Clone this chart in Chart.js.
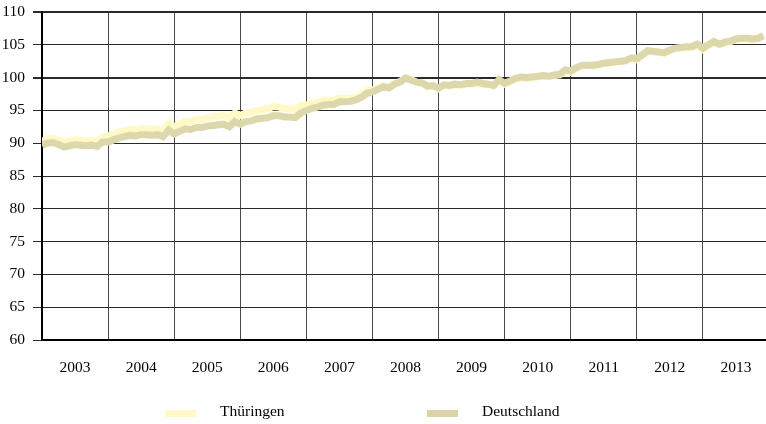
<!DOCTYPE html>
<html>
<head>
<meta charset="utf-8">
<script src="https://cdn.jsdelivr.net/npm/chart.js@4/dist/chart.umd.min.js"></script>
<style>
    html, body { margin: 0; padding: 0; background: #fff; overflow: hidden; }
    #wrap { position: relative; width: 766px; height: 424px; overflow: hidden; }
    #grafik { position: absolute; left: 0; top: 0; }
    .leg { position: absolute; font-family: "Liberation Serif", serif; font-size: 15.5px; color: #000; }
    .box { position: absolute; width: 31px; height: 7px; }
</style>
</head>
<body>
<div id="wrap">
    <canvas id="grafik" width="769" height="424"></canvas>
    <div class="box" style="left:165px; top:410px; background:#FFF9C8;"></div>
    <div class="leg" style="left:220px; top:402px;">Thüringen</div>
    <div class="box" style="left:427px; top:410px; background:#DAD4A8;"></div>
    <div class="leg" style="left:482px; top:402px;">Deutschland</div>
</div>
<script>
// Jahre (Achsenbeschriftung)
const jahre = ['2003', '2004', '2005', '2006', '2007', '2008', '2009', '2010', '2011', '2012', '2013'];

// Monatswerte Januar 2003 bis Dezember 2013
const thueringen = [
    90.2, 90.7, 90.8, 90.5, 90.1, 90.3, 90.5, 90.4, 90.3, 90.4, 90.2, 91.0,
    91.1, 91.4, 91.7, 91.9, 92.1, 92.0, 92.2, 92.2, 92.1, 92.2, 91.9, 93.1,
    92.5, 92.9, 93.3, 93.3, 93.6, 93.6, 93.9, 94.0, 94.1, 94.2, 93.9, 94.6,
    94.2, 94.6, 94.7, 95.0, 95.1, 95.2, 95.6, 95.5, 95.3, 95.2, 95.1, 95.8,
    95.8, 96.1, 96.2, 96.5, 96.6, 96.5, 96.9, 96.8, 96.9, 97.0, 97.4, 98.0,
    98.1, 98.4, 98.8, 98.5, 99.1, 99.4, 100.0, 99.7, 99.3, 99.1, 98.6, 98.7,
    98.3, 98.8, 98.7, 98.9, 98.8, 99.0, 99.0, 99.1, 98.9, 98.9, 98.7, 99.5,
    99.0, 99.4, 99.8, 99.9, 99.9, 99.9, 100.1, 100.2, 100.1, 100.3, 100.4, 101.0,
    100.8, 101.4, 101.8, 101.8, 101.8, 101.9, 102.1, 102.2, 102.3, 102.4, 102.5, 102.9,
    102.7, 103.4, 104.0, 103.9, 103.8, 103.6, 104.1, 104.4, 104.5, 104.5, 104.6, 104.9,
    104.3, 104.9, 105.4, 105.0, 105.3, 105.5, 105.8, 105.9, 105.9, 105.7, 105.9, 106.3
];
const deutschland = [
    89.7, 90.0, 90.1, 89.8, 89.4, 89.6, 89.8, 89.7, 89.6, 89.7, 89.5, 90.2,
    90.2, 90.5, 90.8, 91.0, 91.2, 91.1, 91.3, 91.3, 91.2, 91.3, 91.0, 92.0,
    91.4, 91.8, 92.2, 92.1, 92.4, 92.4, 92.6, 92.7, 92.8, 92.9, 92.5, 93.3,
    92.9, 93.3, 93.4, 93.7, 93.8, 93.9, 94.2, 94.2, 94.0, 94.0, 93.9, 94.6,
    95.0, 95.3, 95.5, 95.8, 95.9, 95.9, 96.3, 96.3, 96.4, 96.6, 97.0, 97.6,
    97.8, 98.2, 98.6, 98.4, 99.0, 99.3, 99.9, 99.6, 99.3, 99.2, 98.7, 98.8,
    98.4, 98.9, 98.8, 99.0, 98.9, 99.1, 99.1, 99.3, 99.1, 99.0, 98.8, 99.7,
    99.1, 99.5, 99.9, 100.1, 100.0, 100.1, 100.2, 100.3, 100.2, 100.4, 100.5, 101.2,
    101.0, 101.5, 101.9, 101.9, 101.9, 102.0, 102.2, 102.3, 102.4, 102.5, 102.6, 103.0,
    102.9, 103.5, 104.1, 104.0, 103.9, 103.8, 104.2, 104.5, 104.6, 104.7, 104.7, 105.1,
    104.5, 105.0, 105.5, 105.1, 105.4, 105.6, 105.9, 106.0, 106.0, 105.9, 106.0, 106.4
];

// x = Monatsindex
const punkte = werte => werte.map((v, i) => ({ x: i, y: v }));
const schrift = { family: 'Liberation Serif', size: 15.5 };

let ctx = document.getElementById('grafik').getContext('2d');
let chart = new Chart(ctx, {
    type: 'line',
    data: {
        datasets: [
            {
                label: 'Thüringen',
                data: punkte(thueringen),
                borderColor: '#FFF9C8',
                borderWidth: 7,
                pointRadius: 0,
                order: 1
            },
            {
                label: 'Deutschland',
                data: punkte(deutschland),
                borderColor: '#DDD7AC',
                borderWidth: 7,
                pointRadius: 0,
                order: 0
            }
        ]
    },
    options: {
        responsive: false,
        animation: false,
        devicePixelRatio: 1,
        layout: { padding: { top: 12, left: 0, right: 0, bottom: 0 } },
        plugins: { legend: { display: false }, tooltip: { enabled: false } },
        scales: {
            x: {
                type: 'linear',
                min: 0,
                max: jahre.length * 12,
                afterFit: s => {
                    s.height = 84;
                    s.paddingLeft = 0;
                    s.paddingRight = 0;
                },
                afterBuildTicks: s => {
                    s.ticks = [];
                    for (let v = 0; v <= jahre.length * 12; v += 6) s.ticks.push({ value: v });
                },
                ticks: {
                    autoSkip: false,
                    maxRotation: 0,
                    padding: 19,
                    color: '#000',
                    font: schrift,
                    callback: v => (v % 12 === 6 ? jahre[(v - 6) / 12] : '')
                },
                grid: {
                    drawTicks: false,
                    color: c => (c.tick && c.tick.value % 12 === 0 ? '#4a4a4a' : 'transparent'),
                    lineWidth: 1
                },
                border: { color: '#000', width: 2 }
            },
            y: {
                min: 60,
                max: 110,
                afterFit: s => {
                    s.width = 42;
                    s.paddingTop = 0;
                    s.paddingBottom = 0;
                },
                ticks: { stepSize: 5, padding: 8, color: '#000', font: schrift },
                grid: {
                    color: '#2a2a2a',
                    lineWidth: c => (c.tick && (c.tick.value === 100 || c.tick.value === 110) ? 2 : 1),
                    tickLength: 9,
                    tickColor: '#2a2a2a'
                },
                border: { color: '#000', width: 2 }
            }
        }
    }
});
</script>
</body>
</html>
